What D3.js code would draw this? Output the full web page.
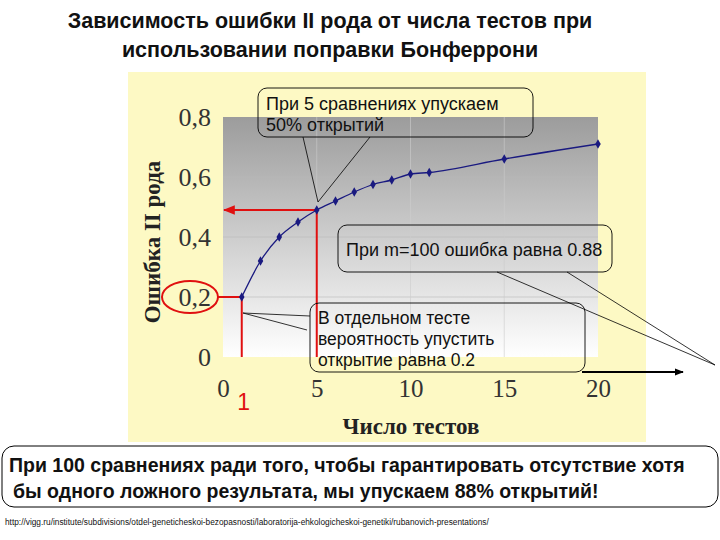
<!DOCTYPE html>
<html><head><meta charset="utf-8">
<script src="https://cdn.jsdelivr.net/npm/d3@7"></script>
<style>body{margin:0;background:#fff}</style></head>
<body><svg id="c" width="720" height="540"></svg>
<script>
const tests = [1,2,3,4,5,6,7,8,9,10,11,15,20];
const errorII = [0.2,0.32,0.40,0.45,0.49,0.52,0.55,0.575,0.59,0.61,0.615,0.66,0.71];
const xTicks = [0,5,10,15,20];
const yTicks = [0,0.2,0.4,0.6,0.8];

const svg = d3.select("#c");
const defs = svg.append("defs");
const g1 = defs.append("linearGradient").attr("id","bg").attr("x1",0).attr("y1",0).attr("x2",0).attr("y2",1);
g1.append("stop").attr("offset","0%").attr("stop-color","#9c9c9c");
g1.append("stop").attr("offset","100%").attr("stop-color","#ffffff");
defs.append("marker").attr("id","ar").attr("viewBox","0 0 10 10").attr("refX",9).attr("refY",5)
  .attr("markerWidth",6).attr("markerHeight",6).attr("orient","auto")
  .append("path").attr("d","M0,1L10,5L0,9z").attr("fill","#e01010");
defs.append("marker").attr("id","ab").attr("viewBox","0 0 10 10").attr("refX",9).attr("refY",5)
  .attr("markerWidth",5).attr("markerHeight",5).attr("orient","auto")
  .append("path").attr("d","M0,1L10,5L0,9z").attr("fill","#000");

const title = svg.append("text").attr("text-anchor","middle").attr("font-family","Liberation Sans, Arial").attr("font-weight","bold").attr("font-size",21.5).attr("fill","#111");
title.append("tspan").attr("x",330).attr("y",28).text("Зависимость ошибки II рода от числа тестов при");
title.append("tspan").attr("x",330).attr("y",57).text("использовании поправки Бонферрони");

svg.append("rect").attr("x",128).attr("y",72).attr("width",518).attr("height",370).attr("fill","#fdf9c4");

const x = d3.scaleLinear().domain([0,20]).range([223,598]);
const y = d3.scaleLinear().domain([0,0.8]).range([357,117]);

svg.append("rect").attr("x",x(0)).attr("y",y(0.8)).attr("width",x(20)-x(0)).attr("height",y(0)-y(0.8)).attr("fill","url(#bg)");
svg.append("g").selectAll("line").data(yTicks.slice(1,4)).join("line")
  .attr("x1",x(0)).attr("x2",x(20)).attr("y1",d=>y(d)).attr("y2",d=>y(d)).attr("stroke","#bbb").attr("stroke-width",0.6);
svg.append("g").selectAll("line").data(xTicks.slice(1,4)).join("line")
  .attr("y1",y(0)).attr("y2",y(0.8)).attr("x1",d=>x(d)).attr("x2",d=>x(d)).attr("stroke","#ccc").attr("stroke-width",0.6);

const ya = svg.append("g").attr("transform",`translate(${x(0)},0)`)
  .call(d3.axisLeft(y).tickValues(yTicks).tickSize(0).tickPadding(12).tickFormat(d=>d===0?"0":d3.format(".1f")(d).replace(".",",")));
ya.select(".domain").remove();
ya.selectAll("text").attr("font-family","Liberation Serif, Times New Roman").attr("font-size",26).attr("fill","#333");
const xa = svg.append("g").attr("transform",`translate(0,${y(0)})`)
  .call(d3.axisBottom(x).tickValues(xTicks).tickSize(0).tickPadding(22).tickFormat(d3.format("d")));
xa.select(".domain").remove();
xa.selectAll("text").attr("font-family","Liberation Serif, Times New Roman").attr("font-size",25).attr("fill","#333");
svg.append("text").attr("x",x(1)+2).attr("y",410).attr("text-anchor","middle").attr("font-family","Liberation Sans, Arial").attr("font-size",23).attr("fill","#e01010").text("1");

svg.append("text").attr("x",411).attr("y",434).attr("text-anchor","middle").attr("font-family","Liberation Serif, Times New Roman").attr("font-weight","bold").attr("font-size",23).attr("fill","#222").text("Число тестов");
svg.append("text").attr("transform","translate(160,242) rotate(-90)").attr("text-anchor","middle").attr("font-family","Liberation Serif, Times New Roman").attr("font-weight","bold").attr("font-size",23).attr("fill","#222").text("Ошибка II рода");

const red="#e01010";
svg.append("line").attr("x1",x(1)).attr("x2",x(1)).attr("y1",y(0)).attr("y2",y(0.2)).attr("stroke",red).attr("stroke-width",2);
svg.append("line").attr("x1",x(1)).attr("x2",218).attr("y1",y(0.2)).attr("y2",y(0.2)).attr("stroke",red).attr("stroke-width",2);
svg.append("ellipse").attr("cx",190).attr("cy",y(0.2)).attr("rx",28).attr("ry",16).attr("fill","none").attr("stroke",red).attr("stroke-width",2);
svg.append("line").attr("x1",x(5)).attr("x2",x(5)).attr("y1",y(0)).attr("y2",y(0.49)).attr("stroke",red).attr("stroke-width",2);
svg.append("line").attr("x1",x(5)).attr("x2",224).attr("y1",y(0.49)).attr("y2",y(0.49)).attr("stroke",red).attr("stroke-width",2).attr("marker-end","url(#ar)");

svg.append("path").datum(tests.map((t,i)=>[t,errorII[i]]))
  .attr("d",d3.line().x(d=>x(d[0])).y(d=>y(d[1])).curve(d3.curveMonotoneX))
  .attr("fill","none").attr("stroke","#1a1a80").attr("stroke-width",1.3);
svg.append("g").selectAll("path").data(tests.map((t,i)=>[t,errorII[i]])).join("path")
  .attr("transform",d=>`translate(${x(d[0])},${y(d[1])})`)
  .attr("d",d3.symbol(d3.symbolDiamond,26)).attr("fill","#1a1a80");

function callout(bx,by,w,h,lines,ptrs,tip,ty,fs,lh){
  ptrs.forEach(p=>svg.append("line").attr("x1",p[0]).attr("y1",p[1]).attr("x2",tip[0]).attr("y2",tip[1]).attr("stroke","#000").attr("stroke-width",0.8));
  svg.append("rect").attr("x",bx).attr("y",by).attr("width",w).attr("height",h).attr("rx",9).attr("fill","none").attr("stroke","#000").attr("stroke-width",0.9);
  const t=svg.append("text").attr("font-family","Liberation Sans, Arial").attr("font-size",fs).attr("fill","#111");
  lines.forEach((l,i)=>t.append("tspan").attr("x",bx+8).attr("y",ty+i*lh).text(l));
}
callout(258,88,275,49,["При 5 сравнениях упускаем","50% открытий"],[[303,137],[370,137]],[318,202],110,18,21);
callout(338,225,274,47,["При m=100 ошибка равна 0.88"],[[497,272],[567,272]],[715,365],256,18,0);
callout(310,303,275,69,["В отдельном тесте","вероятность упустить","открытие равна 0.2"],[[310,316],[307,330]],[243,313],324,17.5,21);
svg.append("line").attr("x1",582).attr("x2",683).attr("y1",372).attr("y2",372).attr("stroke","#000").attr("stroke-width",1.8).attr("marker-end","url(#ab)");

svg.append("rect").attr("x",2).attr("y",446).attr("width",716).attr("height",61).attr("rx",12).attr("fill","#fff").attr("stroke","#000").attr("stroke-width",1);
const bt=svg.append("text").attr("font-family","Liberation Sans, Arial").attr("font-weight","bold").attr("font-size",19.5).attr("fill","#111");
bt.append("tspan").attr("x",9).attr("y",472).text("При 100 сравнениях ради того, чтобы гарантировать отсутствие хотя");
bt.append("tspan").attr("x",13).attr("y",498).text("бы одного ложного результата, мы упускаем 88% открытий!");
svg.append("text").attr("x",5).attr("y",525).attr("font-family","Liberation Sans Narrow, Arial").attr("font-size",8.3).attr("fill","#111")
  .text("http://vigg.ru/institute/subdivisions/otdel-geneticheskoi-bezopasnosti/laboratorija-ehkologicheskoi-genetiki/rubanovich-presentations/");
</script></body></html>
